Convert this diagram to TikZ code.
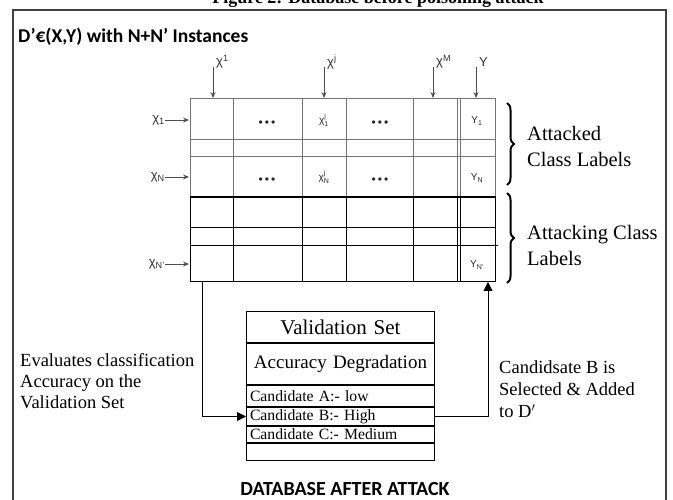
\documentclass[tikz,border=0pt]{standalone}
\usepackage{fontspec}
\setmainfont{Liberation Serif}
\newfontfamily\hdfont{Carlito}
\newfontfamily\lblfont{Liberation Sans}
\usetikzlibrary{arrows.meta,positioning,decorations.pathreplacing}

\begin{document}
\begin{tikzpicture}[x=1pt, y=-1pt,
  every node/.style={inner sep=0pt},
  hd/.style={font=\hdfont\bfseries},
  lbl/.style={font=\lblfont\fontsize{13}{13}\selectfont, text=black!80},
  cell/.style={font=\lblfont\fontsize{10}{10}\selectfont, text=black!85},
  dotsc/.style={font=\lblfont\fontsize{12}{12}\selectfont, text=black!85},
  vrow/.style={draw, line width=1pt, minimum width=188pt, text width=181pt, inner xsep=3.5pt,
               align=left, font=\fontsize{15.7}{16}\selectfont},
  gridup/.style={draw=black!55, line width=1pt},
  griddn/.style={draw=black, line width=1pt},
  brc/.style={decorate, decoration={brace, amplitude=7pt}, line width=2pt},
  >={Triangle[length=9pt, width=9pt]},
  arrline/.style={->, line width=1pt},
  colarr/.style={-{Stealth[length=6pt, width=5pt]}, line width=0.9pt, draw=black!70},
]
\useasboundingbox (0,0) rectangle (673,500);
\node[font=\fontsize{18}{18}\selectfont\bfseries] (cap) at (378,-0.5) {Figure 2: Database before poisoning attack};
\draw[line width=1.5pt, black!75] (13,10) rectangle (666,520);
\node[hd, anchor=west, font=\hdfont\bfseries\fontsize{19.5}{19.5}\selectfont] (title) at (18,37) {D’€(X,Y) with N+N’ Instances};

% table
\draw[gridup] (190,99) rectangle (495,197);
\foreach \y in {140,157} \draw[gridup] (190,\y) -- (495,\y);
\foreach \x in {233,302,346,413,457,460} \draw[gridup] (\x,99) -- (\x,197);
\draw[griddn] (190,197) rectangle (495,282);
\draw[griddn] (190,228) -- (495,228);
\draw[griddn] (190,246) -- (498,246);
\foreach \x in {233,302,346,413,457,460} \draw[griddn] (\x,197) -- (\x,282);
\draw[line width=2pt] (190,197) -- (495,197);

\foreach \x/\nm/\t in {213/a/χ\textsuperscript{1}, 324/b/χ\textsuperscript{j}, 433/c/χ\textsuperscript{M}, 476/d/Y} {
  \node[lbl, anchor=west] (col\nm) at (\x+3,62) {\t};
  \coordinate (st\nm) at (\x,67);
  \coordinate (top\nm) at (\x,98);
  \draw[colarr] (st\nm) -- (top\nm);
}
\foreach \y/\nm/\t in {120/a/χ\textsubscript{1}, 177/b/χ\textsubscript{N}, 264/c/χ\textsubscript{N’}} {
  \node[lbl, anchor=east] (row\nm) at (165,\y) {\t};
  \coordinate (in\nm) at (189,\y);
  \draw[colarr] (row\nm) -- (in\nm);
}

\node[dotsc] (dotsA) at (267,124) {\textbullet\,\textbullet\,\textbullet};
\node[cell] (xjA) at (324,120) {$\mbox{χ}^{\mbox{\scriptsize j}}_{\mbox{\scriptsize 1}}$};
\node[dotsc] (dotsB) at (380,124) {\textbullet\,\textbullet\,\textbullet};
\node[cell] (yA) at (477,121) {Y\textsubscript{1}};
\node[dotsc] (dotsC) at (267,181) {\textbullet\,\textbullet\,\textbullet};
\node[cell] (xjN) at (324,177) {$\mbox{χ}^{\mbox{\scriptsize j}}_{\mbox{\scriptsize N}}$};
\node[dotsc] (dotsD) at (380,181) {\textbullet\,\textbullet\,\textbullet};
\node[cell] (yN) at (477,178) {Y\textsubscript{N}};
\node[cell] (yNp) at (477,265) {Y\textsubscript{N’}};

\draw[brc] (507,103) -- (507,185);
\draw[brc] (507,193) -- (507,283);
\node[anchor=west, align=left, font=\fontsize{20.5}{26}\selectfont] (atkd) at (527,146) {Attacked\\Class Labels};
\node[anchor=west, align=left, font=\fontsize{20.5}{26}\selectfont] (atkg) at (527,245) {Attacking Class\\Labels};

% validation set
\node[vrow, anchor=north west, minimum height=31pt, align=center, font=\fontsize{21}{21}\selectfont] (vtitle) at (246,311) {Validation Set};
\node[vrow, below=0pt of vtitle, minimum height=41pt, align=center, font=\fontsize{19}{19}\selectfont] (vacc) {Accuracy Degradation};
\node[vrow, below=0pt of vacc, minimum height=21pt] (candA) {Candidate A:- low};
\node[vrow, below=0pt of candA, minimum height=18pt] (candB) {Candidate B:- High};
\node[vrow, below=0pt of candB, minimum height=16pt] (candC) {Candidate C:- Medium};
\node[vrow, below=0pt of candC, minimum height=17pt] (vempty) {};

\coordinate (tabOut) at (202,282);
\coordinate (tabIn) at (488,282);
\draw[arrline] (tabOut) |- (candB.west);
\draw[arrline] (candB.east) -| (tabIn);

\node[anchor=west, align=left, font=\fontsize{18.5}{21}\selectfont] (evtxt) at (20,381) {Evaluates classification\\Accuracy on the\\Validation Set};
\node[anchor=west, align=left, font=\fontsize{18.5}{22}\selectfont] (seltxt) at (499,389) {Candidsate B is\\Selected \& Added\\to D$'$};
\node[hd, font=\hdfont\bfseries\fontsize{20}{20}\selectfont] (after) at (345,489) {DATABASE AFTER ATTACK};
\end{tikzpicture}
\end{document}
